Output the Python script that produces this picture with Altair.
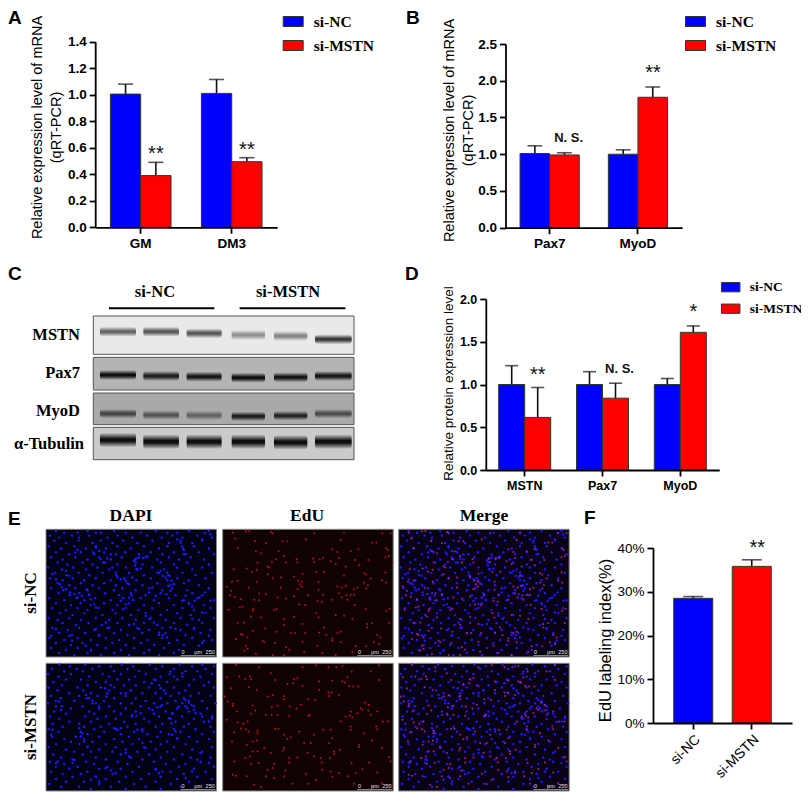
import altair as alt
import pandas as pd

SERIES = ['si-NC', 'si-MSTN']
BLUE = '#0000ff'
RED = '#ff0000'
SANS = 'Liberation Sans'
SERIF = 'Liberation Serif'
H = 785
W = 793

# Panel A
a_cats = ['GM', 'DM3']
a_nc = [1.005, 1.01]
a_nc_hi = [1.08, 1.115]
a_ko = [0.39, 0.495]
a_ko_hi = [0.49, 0.525]
# Panel B
b_cats = ['Pax7', 'MyoD']
b_nc = [1.01, 1.0]
b_nc_hi = [1.115, 1.06]
b_ko = [0.99, 1.775]
b_ko_hi = [1.02, 1.915]
# Panel D
d_cats = ['MSTN', 'Pax7', 'MyoD']
d_nc = [1.0, 1.0, 1.0]
d_nc_hi = [1.22, 1.15, 1.07]
d_ko = [0.615, 0.84, 1.61]
d_ko_hi = [0.965, 1.015, 1.685]
# Panel F
f_cats = ['si-NC', 'si-MSTN']
f_vals = [28.5, 35.8]
f_hi = [28.9, 37.3]

# Western blot, read in units of the crop
blot_rows = ['MSTN', 'Pax7', 'MyoD', 'α-Tubulin']
blot_top = [183, 307, 414, 517]
blot_bottom = [298, 405, 509, 614]
blot_grey = ['#e9e9e9', '#b4b4b4', '#a9a9a9', '#cbcbcb']
lane_start = [300, 430, 560, 695, 822, 945]
lane_end = [408, 537, 665, 795, 922, 1055]
mstn_y = [230, 230, 235, 240, 243, 253]
mstn_dark = [0.6, 0.65, 0.65, 0.4, 0.45, 0.8]
pax7_y = [360, 363, 365, 368, 367, 363]
pax7_dark = [1, 0.9, 0.95, 1, 0.95, 0.95]
myod_y = [476, 480, 481, 484, 482, 476]
myod_dark = [0.65, 0.55, 0.45, 0.9, 0.85, 0.6]
tub_y = [555, 560, 560, 560, 562, 560]
tub_dark = [1, 1, 1, 1, 1, 1]

dapi_nc = {
    5: [30, 125, 205, 330, 430, 490], 10: [55, 95, 150, 165, 240, 285, 365, 395, 478],
    19: [12, 78, 130, 215, 305, 380, 455], 25: [40, 100, 185, 260, 348, 410, 500],
    34: [25, 98, 165, 232, 320, 405, 470], 41: [60, 140, 200, 275, 370, 440],
    51: [8, 85, 150, 215, 295, 365, 445], 58: [45, 120, 180, 255, 340, 412, 490],
    69: [30, 105, 175, 238, 315, 385, 460], 75: [70, 145, 210, 280, 350, 415, 505],
    84: [15, 88, 160, 228, 300, 370, 435], 91: [50, 125, 195, 268, 335, 400, 475],
    100: [35, 110, 178, 270, 345, 425], 106: [65, 140, 215, 290, 385, 490],
    115: [6, 82, 155, 240, 320, 395, 470], 121: [48, 120, 190, 275, 355, 440],
    131: [28, 98, 170, 250, 340, 410, 500], 138: [62, 130, 212, 295, 368, 450],
    147: [12, 80, 150, 235, 315, 395, 480], 153: [50, 115, 195, 272, 365, 430],
    162: [35, 105, 175, 245, 335, 415], 168: [70, 140, 210, 290, 375, 460],
    177: [15, 88, 160, 230, 310, 380, 490], 183: [52, 125, 205, 270, 350, 425],
    192: [38, 100, 178, 255, 345, 440], 198: [72, 130, 220, 300, 390, 470],
    207: [10, 92, 148, 232, 285, 370, 455], 213: [55, 115, 195, 262, 325, 415, 505],
    222: [30, 105, 175, 250, 340, 430], 228: [75, 135, 215, 295, 385, 475],
    237: [18, 95, 158, 240, 320, 410, 495], 243: [60, 125, 200, 278, 365, 445],
    252: [42, 115, 210, 300, 395, 480], 258: [80, 170, 255, 345, 435],
    267: [8, 70, 150, 230, 315, 405, 505], 273: [35, 105, 190, 270, 360, 460],
    282: [50, 128, 215, 295, 385, 470], 288: [90, 168, 250, 335, 425],
    297: [20, 100, 185, 275, 350, 445], 303: [65, 145, 225, 310, 405, 495],
    312: [40, 118, 205, 290, 360, 465], 318: [78, 160, 245, 340, 420],
    327: [10, 95, 180, 265, 350, 440], 333: [55, 135, 220, 305, 395, 500],
    342: [30, 110, 200, 285, 370, 470], 348: [75, 155, 240, 325, 415],
    357: [15, 95, 180, 265, 355], 363: [60, 135, 225, 310, 400],
    372: [40, 125, 205, 295, 385], 378: [85, 165, 250, 340],
}
dapi_nc_clusters = [
    (265, 95), (272, 88), (280, 85), (292, 86), (305, 82), (268, 108), (272, 120), (285, 118), (405, 40), (410, 52),
    (415, 62), (420, 75), (395, 30), (470, 30), (495, 15), (365, 130), (360, 145), (372, 140), (378, 155), (368, 170),
    (385, 165), (375, 185), (362, 195), (335, 130), (345, 125), (352, 140), (130, 195), (135, 210), (145, 225),
    (150, 235), (122, 180), (108, 200), (95, 205), (85, 195), (72, 190), (60, 180), (48, 175), (250, 205), (258, 198),
    (262, 212), (240, 225), (232, 240), (225, 215), (165, 90), (172, 100), (185, 88), (195, 75), (160, 65), (150, 55),
    (142, 70), (88, 70), (95, 62), (60, 125), (70, 140), (20, 135), (30, 150), (42, 165), (430, 225), (440, 232),
    (448, 215), (462, 205), (478, 190), (420, 200), (410, 215), (340, 310), (352, 318), (365, 325), (375, 295),
    (390, 300), (300, 260), (312, 270), (325, 280), (280, 300), (265, 285), (180, 280), (190, 295), (150, 300),
    (160, 320), (120, 350), (135, 365), (70, 320), (78, 335), (30, 300), (15, 320), (460, 350), (475, 335), (490, 320),
    (445, 300), (440, 270), (470, 250), (495, 215), (215, 145), (225, 150), (240, 155), (250, 165), (260, 145),
    (210, 130), (200, 115), (310, 190), (320, 175), (330, 200),
]
dapi_ko = {
    4: [40, 118, 228, 312, 402, 470], 9: [72, 160, 195, 262, 350, 440, 505],
    17: [18, 92, 140, 245, 330, 385, 480], 24: [55, 110, 205, 280, 420, 455],
    32: [6, 75, 170, 225, 300, 372, 500], 40: [38, 130, 190, 268, 345, 410, 465],
    49: [60, 105, 215, 250, 325, 395, 445], 56: [22, 150, 180, 295, 365, 490],
    66: [48, 125, 235, 270, 340, 430, 475], 73: [8, 95, 165, 205, 310, 385, 505],
    82: [35, 112, 190, 255, 355, 420], 90: [70, 135, 225, 290, 330, 400, 460],
    98: [15, 100, 155, 240, 375, 435, 495], 105: [45, 122, 205, 270, 345, 415],
    113: [30, 85, 175, 300, 390, 430, 470], 120: [6, 140, 225, 258, 325, 365, 510],
    129: [48, 110, 190, 285, 345, 420, 445], 136: [75, 160, 240, 310, 395, 485],
    145: [25, 130, 205, 270, 360, 430], 152: [60, 145, 225, 325, 380, 465],
    160: [12, 118, 180, 258, 340, 410, 500], 167: [40, 155, 210, 295, 375, 445],
    176: [70, 135, 235, 310, 390, 475], 182: [20, 100, 190, 270, 350, 430],
    191: [50, 115, 165, 245, 330, 415, 495], 198: [8, 145, 210, 290, 385, 450],
    206: [38, 105, 175, 265, 345, 405, 505], 213: [125, 225, 305, 370, 470],
    221: [18, 90, 160, 250, 335, 430], 228: [55, 115, 205, 280, 395, 490],
    236: [75, 140, 230, 315, 365, 455], 243: [30, 100, 180, 260, 345, 420],
    252: [8, 125, 210, 295, 385, 500], 259: [60, 160, 240, 330, 440],
    266: [85, 135, 200, 275, 365, 470], 274: [22, 110, 225, 310, 410],
    283: [45, 150, 255, 345, 435, 495], 289: [80, 180, 290, 385],
    296: [12, 120, 215, 325, 465], 303: [55, 145, 245, 360, 420],
    311: [30, 95, 185, 280, 400, 505], 317: [70, 160, 225, 330, 445],
    326: [15, 125, 260, 375, 480], 333: [50, 105, 200, 310, 415],
    341: [80, 150, 240, 345, 455], 348: [30, 180, 285, 395, 500],
    356: [60, 115, 220, 330, 430], 363: [10, 160, 265, 375],
    371: [45, 100, 195, 300, 405], 378: [135, 240, 345],
}
dapi_ko_clusters = [
    (420, 110), (430, 118), (438, 125), (445, 140), (450, 150), (425, 135), (410, 120), (400, 130), (490, 175),
    (500, 165), (470, 160), (260, 155), (272, 158), (285, 150), (320, 140), (335, 132), (350, 125), (130, 105),
    (140, 112), (150, 120), (160, 130), (120, 95), (185, 90), (182, 100), (178, 75), (195, 65), (110, 210), (105, 220),
    (115, 235), (125, 250), (100, 195), (205, 195), (215, 200), (225, 195), (275, 200), (290, 205), (40, 115),
    (30, 130), (45, 140), (20, 200), (15, 215), (30, 300), (35, 295), (80, 300), (85, 290), (380, 150), (370, 165),
    (378, 180), (390, 205), (380, 215), (395, 225), (330, 320), (340, 330), (350, 325), (180, 315), (195, 322),
    (210, 330), (135, 350), (150, 340), (160, 355), (455, 290), (465, 270), (490, 300), (410, 30), (385, 40),
    (375, 25), (330, 50), (318, 60), (345, 75), (360, 90), (240, 90), (255, 80), (240, 270), (250, 280), (290, 240),
    (300, 255), (440, 325), (420, 345),
]
edu_nc = [
    (30, 10), (70, 6), (80, 6), (145, 8), (150, 12), (275, 12), (365, 10), (480, 12), (505, 12),
    (38, 28), (98, 35), (130, 42), (180, 36), (195, 36), (250, 30), (355, 32), (450, 40), (462, 40),
    (45, 56), (100, 66), (115, 72), (330, 60), (345, 68), (385, 66), (408, 60), (492, 58), (497, 62),
    (168, 66), (185, 80), (222, 90), (272, 88), (275, 98), (292, 90), (302, 86), (325, 96), (350, 86),
    (398, 92), (438, 92), (490, 84), (500, 80), (105, 100), (148, 98), (160, 90), (190, 100), (225, 100),
    (340, 104), (370, 112), (410, 108), (512, 100), (135, 112), (140, 115), (72, 118), (102, 122), (88, 128),
    (33, 120), (240, 134), (282, 128), (305, 128), (365, 140), (425, 132), (432, 136), (445, 148), (490, 130),
    (480, 154), (492, 160), (135, 135), (150, 147), (175, 145), (215, 142), (228, 155), (238, 158), (232, 165),
    (45, 155), (28, 158), (102, 158), (288, 158), (425, 160), (437, 168), (405, 176), (395, 180), (12, 172),
    (78, 175), (175, 175), (238, 172), (225, 180), (288, 182), (345, 172), (358, 175), (370, 170), (432, 178),
    (25, 185), (22, 198), (36, 203), (110, 193), (130, 195), (165, 205), (190, 208), (215, 202), (256, 198),
    (302, 197), (350, 192), (358, 205), (372, 198), (385, 197), (395, 197), (55, 210), (95, 212), (110, 213),
    (285, 215), (298, 218), (330, 212), (375, 212), (60, 232), (52, 235), (92, 240), (90, 245), (18, 242),
    (155, 243), (162, 240), (230, 226), (248, 228), (282, 252), (340, 258), (365, 260), (397, 228), (430, 240),
    (492, 245), (502, 240), (65, 280), (85, 262), (115, 265), (185, 270), (215, 263), (288, 265), (390, 270),
    (45, 282), (90, 305), (128, 298), (185, 288), (240, 285), (305, 295), (435, 285), (450, 282), (500, 282),
    (435, 295), (55, 315), (60, 318), (75, 325), (120, 335), (125, 340), (162, 308), (205, 312), (218, 312),
    (248, 312), (290, 310), (312, 318), (330, 328), (345, 312), (355, 308), (465, 318), (475, 325), (70, 350),
    (75, 360), (65, 365), (40, 330), (158, 342), (190, 355), (200, 362), (240, 338), (285, 350), (330, 335),
    (355, 340), (400, 352), (432, 352), (455, 340), (470, 345), (100, 375), (150, 378), (185, 378), (245, 368),
    (300, 372), (340, 378), (390, 368),
]
edu_ko = [
    (40, 4), (110, 12), (240, 12), (280, 6), (318, 12), (342, 12), (360, 8), (388, 25), (445, 25), (470, 6),
    (12, 42), (50, 40), (68, 47), (82, 40), (85, 48), (145, 30), (158, 50), (215, 48), (225, 44), (240, 68),
    (195, 62), (212, 60), (290, 55), (330, 52), (360, 55), (368, 58), (375, 42), (380, 68), (392, 70), (408, 70),
    (470, 50), (25, 75), (102, 80), (78, 72), (290, 80), (318, 88), (328, 88), (320, 98), (350, 95), (135, 100),
    (150, 95), (185, 98), (185, 108), (6, 100), (15, 115), (32, 122), (30, 128), (90, 127), (98, 142), (148, 132),
    (165, 128), (202, 130), (222, 136), (235, 125), (258, 108), (278, 110), (415, 135), (428, 118), (440, 125),
    (42, 145), (85, 152), (130, 155), (147, 155), (165, 155), (200, 158), (258, 158), (262, 155), (385, 145),
    (420, 140), (438, 142), (445, 155), (465, 145), (405, 150), (370, 160), (382, 158), (390, 163), (45, 178),
    (75, 175), (12, 170), (62, 182), (55, 195), (70, 198), (78, 205), (105, 202), (105, 210), (35, 208), (158, 197),
    (168, 197), (185, 215), (205, 222), (195, 228), (230, 205), (275, 215), (302, 200), (325, 200), (355, 175),
    (385, 190), (385, 200), (462, 190), (465, 198), (425, 210), (482, 175), (498, 175), (28, 235), (90, 235),
    (103, 232), (72, 245), (125, 255), (185, 255), (182, 262), (90, 265), (105, 265), (145, 270), (245, 240),
    (265, 240), (320, 240), (330, 225), (410, 245), (410, 252), (450, 232), (480, 255), (35, 295), (68, 285),
    (82, 280), (85, 302), (108, 300), (155, 303), (150, 315), (135, 320), (188, 322), (200, 285), (200, 298),
    (225, 283), (255, 270), (275, 280), (295, 285), (298, 298), (335, 265), (335, 272), (352, 260), (322, 285),
    (388, 300), (440, 298), (500, 282), (505, 295), (420, 318), (30, 335), (40, 338), (72, 340), (130, 340),
    (155, 345), (185, 340), (250, 332), (300, 320), (325, 325), (350, 330), (378, 340), (400, 330), (465, 328),
    (95, 365), (115, 372), (210, 362), (258, 362), (280, 350), (330, 342), (395, 362), (450, 370), (480, 360),
    (500, 365),
]


def bar_panel(cats, nc, nc_hi, ko, ko_hi, y_max, y_ticks, x_rng, y_rng, bar_w,
              title, title_x, title_y, title_size, legend_xy, sw, rowpad, lab_off, lab_size,
              label_size=13.5, line_h=19):
    x0 = x_rng[0] - 8
    x1 = x_rng[1] - 8
    y0 = y_rng[0] - 8
    y1 = y_rng[1] - 8
    sx = alt.Scale(domain=cats, range=[x0, x1], paddingInner=0, paddingOuter=0)
    sy = alt.Scale(domain=[0, y_max], range=[y0, y1], nice=False)
    layers = []
    for i, (vals, his) in enumerate([(nc, nc_hi), (ko, ko_hi)]):
        off = -bar_w / 2 if i == 0 else bar_w / 2
        df = pd.DataFrame({'cat': cats, 'value': vals, 'hi': his, 'series': SERIES[i]})
        base = alt.Chart(df)
        x_plain = alt.X('cat:N', scale=sx, axis=None)
        y_plain = alt.Y('value:Q', scale=sy, axis=None)
        err = base.mark_rule(color='#111111', strokeWidth=1.6, xOffset=off).encode(
            x=x_plain, y=y_plain, y2='hi:Q')
        cap = base.mark_tick(color='#111111', thickness=1.6, size=bar_w * 0.5, orient='horizontal', xOffset=off).encode(
            x=x_plain, y=alt.Y('hi:Q', scale=sy, axis=None))
        if i == 0:
            ax_x = alt.Axis(title=None, orient='bottom', offset=-(H - y0), labelAngle=0, domainColor='black',
                            domainWidth=1.8, tickColor='black', tickWidth=1.8, tickSize=6, labelColor='black',
                            labelFont=SANS, labelFontWeight='bold', labelFontSize=label_size, labelPadding=3,
                            grid=False, zindex=1)
            ax_y = alt.Axis(title=title, orient='left', offset=-x0, values=y_ticks, format='.1f', domainColor='black',
                            domainWidth=1.8, tickColor='black', tickWidth=1.8, tickSize=6, labelColor='black',
                            labelFont=SANS, labelFontWeight='bold', labelFontSize=label_size, labelPadding=3,
                            grid=False, zindex=1, titleFont=SANS, titleFontWeight='normal', titleFontSize=title_size,
                            titleColor='black', titleX=title_x - x_rng[0], titleY=title_y - 8, titleAngle=270,
                            titleAlign='center', titleBaseline='middle', titleLineHeight=line_h)
            legend = alt.Legend(title=None, orient='none', legendX=legend_xy[0] - 8, legendY=legend_xy[1] - 8,
                                symbolType='M-1,-0.5H1V0.5H-1Z', symbolSize=sw * sw, symbolStrokeColor='#333333',
                                symbolStrokeWidth=1, labelFont=SERIF, labelFontWeight='bold', labelFontSize=lab_size,
                                labelColor='black', labelOffset=lab_off, rowPadding=rowpad)
            bar = base.mark_bar(size=bar_w, xOffset=off, stroke='#333333', strokeWidth=1).encode(
                x=alt.X('cat:N', scale=sx, axis=ax_x),
                y=alt.Y('value:Q', scale=sy, axis=ax_y),
                fill=alt.Fill('series:N', scale=alt.Scale(domain=SERIES, range=[BLUE, RED]), legend=legend))
        else:
            bar = base.mark_bar(size=bar_w, xOffset=off, stroke='#333333', strokeWidth=1, fill=RED).encode(
                x=x_plain, y=y_plain)
        layers += [err, cap, bar]
    return layers, sx, sy


def marks(cats_at, ys, texts, sx, sy, off, size, weight='normal'):
    df = pd.DataFrame({'cat': cats_at, 'y': ys, 'label': texts})
    return alt.Chart(df).mark_text(font=SANS, fontSize=size, fontWeight=weight, color='#111111', xOffset=off).encode(
        x=alt.X('cat:N', scale=sx, axis=None), y=alt.Y('y:Q', scale=sy, axis=None), text='label:N')


def label(text, x, y, size, font=SERIF, weight='bold', align='center', angle=0, baseline='middle'):
    df = pd.DataFrame({'label': [text]})
    return alt.Chart(df).mark_text(font=font, fontSize=size, fontWeight=weight, color='black', align=align,
                                   baseline=baseline, angle=angle).encode(
        x=alt.value(x - 8), y=alt.value(y - 8), text='label:N')


layers = []

# A
pa, sx, sy = bar_panel(a_cats, a_nc, a_nc_hi, a_ko, a_ko_hi, 1.4, [0, 0.2, 0.4, 0.6, 0.8, 1.0, 1.2, 1.4],
                       [95.2, 277.2], [227.3, 41.7], 30.3, ['Relative expression level of mRNA', '(qRT-PCR)'],
                       38, 127, 14.5, [282.7, 11], 20, 5, 10, 15.5)
layers += pa
layers.append(marks(a_cats, [0.555, 0.585], ['**', '**'], sx, sy, 15.2, 20))

# B
pb, sx, sy = bar_panel(b_cats, b_nc, b_nc_hi, b_ko, b_ko_hi, 2.5, [0, 0.5, 1.0, 1.5, 2.0, 2.5],
                       [505.5, 682.1], [227.7, 44], 29.6, ['Relative expression level of mRNA', '(qRT-PCR)'],
                       449, 130, 14.5, [685, 11], 20, 5, 10, 15.5)
layers += pb
layers.append(marks(['Pax7'], [1.22], ['N. S.'], sx, sy, 19, 13, 'bold'))
layers.append(marks(['MyoD'], [2.1], ['**'], sx, sy, 15, 20))

# D
pd_, sx, sy = bar_panel(d_cats, d_nc, d_nc_hi, d_ko, d_ko_hi, 2.0, [0, 0.5, 1.0, 1.5, 2.0],
                        [485.8, 719.2], [470, 299], 26, 'Relative protein expression level',
                        448, 383, 13.5, [720.7, 277.2], 18.5, 4.5, 9, 13.5, label_size=12.5)
layers += pd_
layers.append(marks(['MSTN'], [1.115], ['**'], sx, sy, 13, 20))
layers.append(marks(['Pax7'], [1.18], ['N. S.'], sx, sy, 17, 13, 'bold'))
layers.append(marks(['MyoD'], [1.85], ['*'], sx, sy, 13, 20))

# F
x0 = 653 - 8
y0 = 723 - 8
sx = alt.Scale(domain=f_cats, range=[x0, 792 - 8], paddingInner=0, paddingOuter=0.188)
sy = alt.Scale(domain=[0, 40], range=[y0, 548 - 8], nice=False)
df_f = pd.DataFrame({'cat': f_cats, 'value': f_vals, 'hi': f_hi})
x_plain = alt.X('cat:N', scale=sx, axis=None)
y_plain = alt.Y('value:Q', scale=sy, axis=None)
layers.append(alt.Chart(df_f).mark_rule(color='#111111', strokeWidth=1.6).encode(x=x_plain, y=y_plain, y2='hi:Q'))
layers.append(alt.Chart(df_f).mark_tick(color='#111111', thickness=1.6, size=20, orient='horizontal').encode(
    x=x_plain, y=alt.Y('hi:Q', scale=sy, axis=None)))
layers.append(alt.Chart(df_f).mark_bar(size=39, stroke='#333333', strokeWidth=1).encode(
    x=alt.X('cat:N', scale=sx, axis=alt.Axis(
        title=None, orient='bottom', offset=-(H - y0), labelAngle=-45, labelAlign='right', labelBaseline='top',
        domainColor='black', domainWidth=1.8, tickColor='black', tickWidth=1.8, tickSize=6, labelColor='black',
        labelFont=SANS, labelFontSize=14, labelPadding=3, grid=False, zindex=1)),
    y=alt.Y('value:Q', scale=sy, axis=alt.Axis(
        title='EdU labeling index(%)', orient='left', offset=-x0, values=[0, 10, 20, 30, 40],
        labelExpr="datum.value + '%'", domainColor='black', domainWidth=1.8, tickColor='black', tickWidth=1.8,
        tickSize=6, labelColor='black', labelFont=SANS, labelFontSize=13.5, labelPadding=3, grid=False, zindex=1,
        titleFont=SANS, titleFontWeight='normal', titleFontSize=16.5, titleColor='black', titleX=605 - 653,
        titleY=640 - 8, titleAngle=270, titleAlign='center', titleBaseline='middle')),
    fill=alt.Fill('cat:N', scale=alt.Scale(domain=f_cats, range=[BLUE, RED]), legend=None)))
layers.append(alt.Chart(pd.DataFrame({'cat': ['si-MSTN'], 'y': [40.0], 'label': ['**']})).mark_text(
    font=SANS, fontSize=20, color='#111111').encode(
    x=alt.X('cat:N', scale=sx, axis=None), y=alt.Y('y:Q', scale=sy, axis=None), text='label:N'))

# C: blot boxes and bands
bx = alt.Scale(domain=[280, 1062], range=[93.3 - 8, 354 - 8], nice=False, zero=False)
by = alt.Scale(domain=[183, 614], range=[316 - 8, 459.7 - 8], nice=False, zero=False)
df_box = pd.DataFrame({'x0': [280] * 4, 'x1': [1062] * 4, 'y0': blot_top, 'y1': blot_bottom, 'grey': blot_grey})
layers.append(alt.Chart(df_box).mark_rect(stroke='#555555', strokeWidth=1).encode(
    x=alt.X('x0:Q', scale=bx, axis=None), x2='x1:Q',
    y=alt.Y('y0:Q', scale=by, axis=None), y2='y1:Q',
    fill=alt.Fill('grey:N', scale=None)))
band_fill = {'gradient': 'linear', 'x1': 0, 'x2': 0, 'y1': 0, 'y2': 1,
             'stops': [{'offset': 0, 'color': 'rgba(15,15,15,0)'}, {'offset': 0.42, 'color': '#0f0f0f'},
                       {'offset': 0.58, 'color': '#0f0f0f'}, {'offset': 1, 'color': 'rgba(15,15,15,0)'}]}
for ys, dark, half in [(mstn_y, mstn_dark, 15), (pax7_y, pax7_dark, 15), (myod_y, myod_dark, 14), (tub_y, tub_dark, 22)]:
    df_b = pd.DataFrame({'x0': lane_start, 'x1': lane_end, 'y0': [v - half for v in ys], 'y1': [v + half for v in ys],
                         'dark': dark})
    layers.append(alt.Chart(df_b).mark_rect(fill=band_fill, cornerRadius=3).encode(
        x=alt.X('x0:Q', scale=bx, axis=None), x2='x1:Q',
        y=alt.Y('y0:Q', scale=by, axis=None), y2='y1:Q',
        opacity=alt.Opacity('dark:Q', scale=None)))
for text, y, right in zip(blot_rows, [335, 372.7, 410.7, 444], [80, 80, 80, 84]):
    layers.append(label(text, right, y, 16.5, align='right'))
layers.append(label('si-NC', 155, 291.7, 16.5))
layers.append(label('si-MSTN', 288, 291.7, 16.5))
df_line = pd.DataFrame({'a': [327, 719], 'b': [643, 1036], 'y': [160, 160]})
layers.append(alt.Chart(df_line).mark_rule(color='black', strokeWidth=2).encode(
    x=alt.X('a:Q', scale=bx, axis=None), x2='b:Q', y=alt.Y('y:Q', scale=by, axis=None)))


def spots(rows, clusters):
    return [(x, y) for y, xs in rows.items() for x in xs] + clusters


# E: fields
blue_nc = spots(dapi_nc, dapi_nc_clusters)
blue_ko = spots(dapi_ko, dapi_ko_clusters)
fields = [(46, 529.3, blue_nc, None, '#020214'), (222.7, 529.3, None, edu_nc, '#100103'),
          (398.7, 529.3, blue_nc, edu_nc, '#080214'),
          (46, 663.3, blue_ko, None, '#020214'), (222.7, 663.3, None, edu_ko, '#100103'),
          (398.7, 663.3, blue_ko, edu_ko, '#080214')]
for fx, fy, blue, red, bg in fields:
    px = alt.Scale(domain=[0, 513], range=[fx - 8, fx + 170.5 - 8], nice=False, zero=False)
    py = alt.Scale(domain=[0, 384], range=[fy - 8, fy + 127.7 - 8], nice=False, zero=False)
    df_bg = pd.DataFrame({'x0': [0], 'x1': [513], 'y0': [0], 'y1': [384]})
    layers.append(alt.Chart(df_bg).mark_rect(fill=bg, stroke='#888888', strokeWidth=1).encode(
        x=alt.X('x0:Q', scale=px, axis=None), x2='x1:Q', y=alt.Y('y0:Q', scale=py, axis=None), y2='y1:Q'))
    if blue:
        df_d = pd.DataFrame(blue, columns=['x', 'y'])
        layers.append(alt.Chart(df_d).mark_circle(size=6, color='#1a1aff', opacity=1).encode(
            x=alt.X('x:Q', scale=px, axis=None), y=alt.Y('y:Q', scale=py, axis=None)))
    if red:
        df_d = pd.DataFrame(red, columns=['x', 'y'])
        layers.append(alt.Chart(df_d).mark_circle(size=4, color='#d01020' if not blue else '#c01fa0', opacity=0.9).encode(
            x=alt.X('x:Q', scale=px, axis=None), y=alt.Y('y:Q', scale=py, axis=None)))
    df_sc = pd.DataFrame({'x': [412, 458, 494], 'y': [368] * 3, 'label': ['0', 'μm', '250']})
    layers.append(alt.Chart(df_sc).mark_text(font=SANS, fontSize=5.5, color='#e6e6e6').encode(
        x=alt.X('x:Q', scale=px, axis=None), y=alt.Y('y:Q', scale=py, axis=None), text='label:N'))
    df_bar = pd.DataFrame({'a': [405], 'b': [510], 'y': [380]})
    layers.append(alt.Chart(df_bar).mark_rule(color='#999999', strokeWidth=1).encode(
        x=alt.X('a:Q', scale=px, axis=None), x2='b:Q', y=alt.Y('y:Q', scale=py, axis=None)))

layers.append(label('DAPI', 131, 515.7, 17.5))
layers.append(label('EdU', 307, 515.7, 17.5))
layers.append(label('Merge', 484, 515.7, 17.5))
layers.append(label('si-NC', 30.7, 593, 17, angle=270))
layers.append(label('si-MSTN', 30.7, 727, 17, angle=270))

# panel letters
for text, x, y in [('A', 8, 18), ('B', 406, 18), ('C', 8, 274), ('D', 405, 274), ('E', 8, 519), ('F', 584, 518)]:
    layers.append(label(text, x, y, 19, font=SANS, align='left'))

chart = alt.layer(*layers).resolve_scale(
    x='independent', y='independent', fill='independent', opacity='independent'
).resolve_axis(x='independent', y='independent').properties(
    width=W, height=H, padding=0, autosize=alt.AutoSizeParams(type='none')
).configure_view(stroke=None)

chart.save("out.html", embed_options={"renderer": "svg", "actions": False})
